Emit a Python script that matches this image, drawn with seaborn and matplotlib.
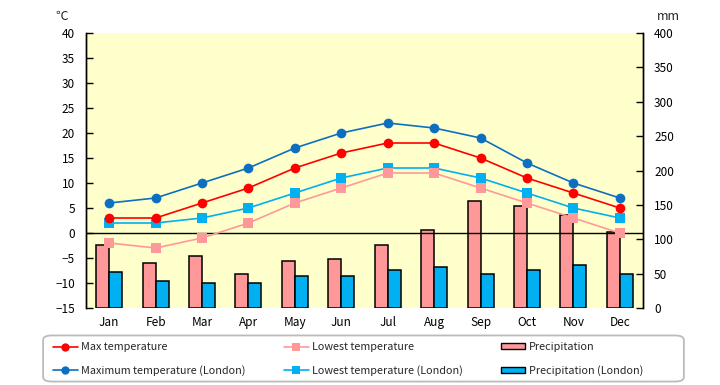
import numpy as np
import pandas as pd
import matplotlib
matplotlib.use("Agg")
import matplotlib.pyplot as plt
import seaborn as sns
from matplotlib.lines import Line2D
from matplotlib.patches import Patch, FancyBboxPatch

months = ["Jan", "Feb", "Mar", "Apr", "May", "Jun", "Jul", "Aug", "Sep", "Oct", "Nov", "Dec"]
max_temp = [3, 3, 6, 9, 13, 16, 18, 18, 15, 11, 8, 5]
low_temp = [-2, -3, -1, 2, 6, 9, 12, 12, 9, 6, 3, 0]
max_temp_london = [6, 7, 10, 13, 17, 20, 22, 21, 19, 14, 10, 7]
low_temp_london = [2, 2, 3, 5, 8, 11, 13, 13, 11, 8, 5, 3]
precip = [91, 65, 75, 49, 68, 72, 91, 114, 155, 148, 135, 110]
precip_london = [52, 40, 36, 37, 46, 46, 56, 59, 49, 56, 63, 50]

temp_ticks = list(range(-15, 41, 5))
precip_ticks = list(range(0, 401, 50))

sns.set_theme(style="white")
plt.rcParams["font.family"] = ["Noto Sans CJK JP", "DejaVu Sans"]

C_MAX = "#ff0000"
C_LOW = "#ff9999"
C_MAXL = "#0d6fc0"
C_LOWL = "#00b0f0"

W, H = 720, 385
fig = plt.figure(figsize=(W/100, H/100), dpi=100)
ax = fig.add_axes([86/W, 1-308/H, (643-86)/W, (308-33)/H])
ax2 = ax.twinx()

# precipitation bars on right axis
pdf = pd.DataFrame({
    "month": months * 2,
    "value": precip + precip_london,
    "series": ["Precipitation"] * 12 + ["Precipitation (London)"] * 12,
})
sns.barplot(data=pdf, x="month", y="value", hue="series", order=months,
            palette=[C_LOW, C_LOWL], edgecolor="black", linewidth=1.1,
            width=0.56, ax=ax2, legend=False, saturation=1)
ax2.set_ylim(0, 400)
ax2.set_yticks(precip_ticks)
ax2.set_ylabel("")
ax2.set_xlabel("")
ax2.patch.set_visible(True)
ax2.patch.set_facecolor("#ffffcc")

# temperature lines on left axis
x = np.arange(12)
tdf = pd.DataFrame({"x": x, "max": max_temp, "low": low_temp,
                    "maxl": max_temp_london, "lowl": low_temp_london})
ax.axhline(0, color="black", lw=1.0, zorder=1)
for col, c, m in [("maxl", C_MAXL, "o"), ("lowl", C_LOWL, "s"),
                  ("low", C_LOW, "s"), ("max", C_MAX, "o")]:
    sns.lineplot(data=tdf, x="x", y=col, color=c, marker=m, markersize=7,
                 markeredgewidth=0, lw=1.2, ax=ax, zorder=3)
ax.set_zorder(ax2.get_zorder() + 1)
ax.patch.set_visible(False)
ax.set_ylim(-15, 40)
ax.set_yticks(temp_ticks)
ax.set_xlim(-0.5, 11.5)
ax2.set_xlim(-0.5, 11.5)
ax.set_xticks(x)
ax.set_xticklabels(months)
ax.set_xlabel("")
ax.set_ylabel("")

for a in (ax, ax2):
    for s in ("top", "bottom"):
        a.spines[s].set_visible(False)
    a.spines["left"].set_color("black")
    a.spines["right"].set_color("black")
    a.spines["left"].set_linewidth(1.0)
    a.spines["right"].set_linewidth(1.0)
ax.tick_params(axis="y", direction="in", length=5, width=1, colors="black",
               labelsize=8.5, pad=8, left=True, right=False)
ax2.tick_params(axis="y", direction="in", length=5, width=1, colors="black",
                labelsize=8.5, pad=8, right=True, left=False)
ax.tick_params(axis="x", length=0, labelsize=8.5, pad=6, colors="black")
ax2.tick_params(axis="x", bottom=False, labelbottom=False)
ax.grid(False)
ax2.grid(False)

fig.text(62/W, 1-16/H, "℃", fontsize=9, ha="center", va="center")
fig.text(668/W, 1-16/H, "mm", fontsize=9, ha="center", va="center")

# legend frame (rounded box)
frame = FancyBboxPatch((46/W, 1-380/H), (681-46)/W, (380-337)/H,
                       boxstyle="round,pad=0.004,rounding_size=0.012",
                       transform=fig.transFigure, facecolor="white",
                       edgecolor="#bbbbbb", lw=1.3, zorder=0)
fig.patches.append(frame)

handles = [
    Line2D([], [], color=C_MAX, marker="o", markersize=6, markeredgewidth=0, lw=1.2),
    Line2D([], [], color=C_MAXL, marker="o", markersize=6, markeredgewidth=0, lw=1.2),
    Line2D([], [], color=C_LOW, marker="s", markersize=6, markeredgewidth=0, lw=1.2),
    Line2D([], [], color=C_LOWL, marker="s", markersize=6, markeredgewidth=0, lw=1.2),
    Patch(facecolor=C_LOW, edgecolor="black", lw=1.0),
    Patch(facecolor=C_LOWL, edgecolor="black", lw=1.0),
]
labels = ["Max temperature", "Maximum temperature (London)",
          "Lowest temperature", "Lowest temperature (London)",
          "Precipitation", "Precipitation (London)"]
leg = fig.legend(handles, labels, ncol=3, loc="center left",
                 bbox_to_anchor=(53/W, 1-359/H),
                 fontsize=7.8, frameon=False,
                 handlelength=2.3, handleheight=0.5,
                 handletextpad=0.3, labelspacing=1.2, borderpad=0,
                 borderaxespad=0, columnspacing=3.5)

fig.savefig("out.png", dpi=100, facecolor="white")
